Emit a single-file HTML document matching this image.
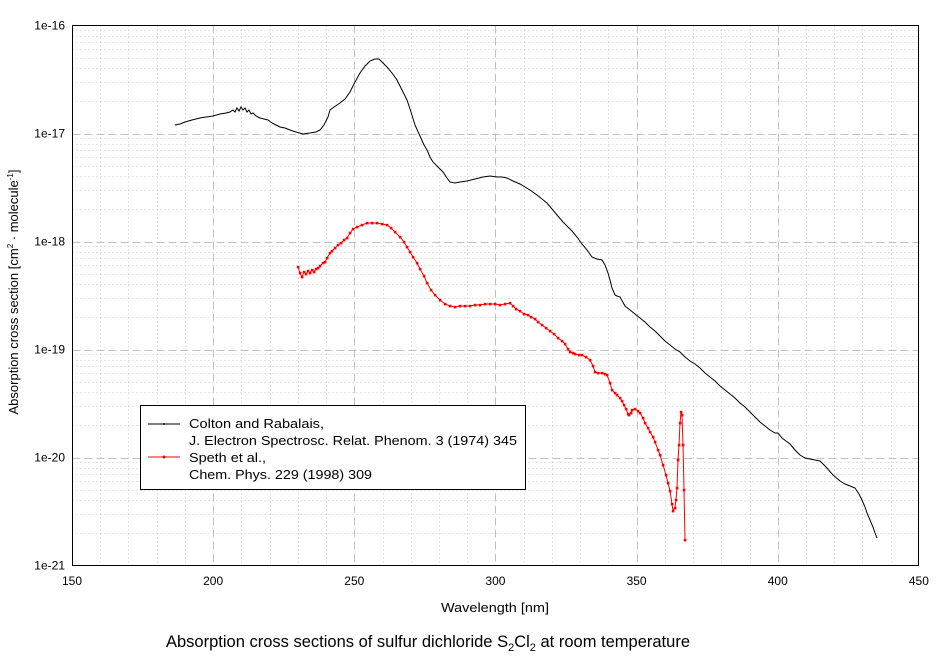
<!DOCTYPE html>
<html><head><meta charset="utf-8"><style>
body{margin:0;background:#fff}
svg text{font-family:"Liberation Sans",Arial,sans-serif;fill:#000}
</style></head><body>
<svg id="s" width="944" height="659" xmlns="http://www.w3.org/2000/svg">
<g id="grid"></g>
<rect x="72.5" y="25.5" width="846" height="540" fill="none" stroke="#000" stroke-width="1"/>
<g id="ticks" font-size="12"></g>
<polyline fill="none" stroke="#000" stroke-width="1" points="175,125 180,124 185,122 192,120 200,118 206,117 213,116 220,114 226,113 230,112 233,110 235,112 237,108 239,111 241,107 243,110 245,108 247,112 249,110 251,114 253,113 256,116 260,118 264,119 268,120 272,123 276,125 280,127 285,128 290,130 296,132 303,134 310,133 316,132 320,130 324,125 328,117 330,110 334,107 340,103 345,99 350,92 355,82 360,73 365,66 370,61 375,59 379,59 382,62 387,67 392,73 397,80 402,90 407,100 411,112 415,125 420,136 424,145 427,150 430,157 433,162 438,167 443,172 447,178 450,182 455,183 460,182 467,181 475,179 483,177 490,176 497,177 502,177 507,178 513,181 520,184 525,187 530,190 537,195 542,199 547,203 552,209 557,215 563,222 567,226 572,231 577,237 582,244 587,250 592,257 597,259 602,260 605,265 608,273 610,280 612,288 615,295 617,296 620,297 625,306 630,310 635,314 640,318 645,322 650,327 655,331 660,336 665,341 670,345 675,349 680,352 685,357 690,361 695,364 700,368 705,373 710,377 715,381 720,386 725,390 730,394 735,398 740,403 745,407 750,412 755,417 760,422 765,426 770,430 775,433 778,433 782,438 786,441 790,444 795,450 800,455 805,458 810,459 815,460 820,461 826,467 833,475 840,481 845,484 850,486 855,488 859,494 862,500 865,507 867,513 870,520 873,527 875,533 877,538"/>
<polyline id="red" fill="none" stroke="#f00" stroke-width="1" points="298,267 300,273 302,277 304,272 306,274 308,271 310,273 312,270 314,272 316,269 318,268 320,266 323,263 325,262 327,258 330,253 332,251 335,248 338,245 341,243 344,240 347,238 350,233 353,229 357,227 362,225 367,223 372,223 377,223 382,224 387,225 391,228 395,232 400,237 404,242 407,247 410,252 413,257 417,263 420,269 424,276 427,283 431,290 435,295 440,300 445,304 450,306 455,307 460,306 465,306 470,306 475,305 480,305 485,304 490,304 495,304 500,305 505,304 510,303 513,306 516,309 520,311 524,314 528,315 531,317 535,319 538,322 542,325 546,328 550,331 554,334 558,338 562,341 565,344 568,349 570,352 573,353 575,354 579,355 582,355 586,357 590,360 593,366 595,372 598,373 602,373 605,374 607,375 610,383 612,390 615,393 617,395 620,398 622,401 624,405 626,409 628,414 629,415 631,413 632,410 635,409 638,411 640,413 643,418 645,423 648,428 650,432 653,437 655,442 658,450 660,455 663,465 666,475 668,483 670,491 672,504 673,511 675,508 676,500 677,488 678,460 679,445 680,423 681,412 682,415 683,445 684,490 685,540"/>
<g id="dots" fill="#f00"></g>
<rect x="140.5" y="405.5" width="385" height="84" fill="#fff" stroke="#000"/>
<line x1="148" y1="424" x2="180" y2="424" stroke="#000"/><circle cx="164" cy="424" r="1" fill="#000"/>
<line x1="148" y1="457" x2="180" y2="457" stroke="#f00"/><circle cx="164" cy="457" r="1.5" fill="#f00"/>
<text x="189" y="428" font-size="13" textLength="135" lengthAdjust="spacingAndGlyphs">Colton and Rabalais,</text>
<text x="189" y="445" font-size="13" textLength="328" lengthAdjust="spacingAndGlyphs">J. Electron Spectrosc. Relat. Phenom. 3 (1974) 345</text>
<text x="189" y="462" font-size="13" textLength="77" lengthAdjust="spacingAndGlyphs">Speth et al.,</text>
<text x="189" y="479" font-size="13" textLength="183" lengthAdjust="spacingAndGlyphs">Chem. Phys. 229 (1998) 309</text>
<text x="441" y="612" font-size="13" textLength="108" lengthAdjust="spacingAndGlyphs">Wavelength [nm]</text>
<text transform="translate(18,292) rotate(-90)" font-size="13" text-anchor="middle">Absorption cross section [cm<tspan dy="-5" font-size="8">2</tspan><tspan dy="5"> · molecule</tspan><tspan dy="-5" font-size="8">-1</tspan><tspan dy="5">]</tspan></text>
<text x="428" y="647" font-size="16.5" text-anchor="middle">Absorption cross sections of sulfur dichloride S<tspan dy="4" font-size="11">2</tspan><tspan dy="-4">Cl</tspan><tspan dy="4" font-size="11">2</tspan><tspan dy="-4"> at room temperature</tspan></text>
</svg>
<script>
var NS="http://www.w3.org/2000/svg";
function el(p,t,a,txt){var e=document.createElementNS(NS,t);for(var k in a)e.setAttribute(k,a[k]);if(txt!==undefined)e.textContent=txt;p.appendChild(e);return e;}
var g=document.getElementById("grid"),tk=document.getElementById("ticks");
var L=72.5,R=918.5,T=25.5,B=565.5,dec=108;
function X(n){return 72+(n-150)*2.823;}
for(var n=160;n<450;n+=10){var x=Math.round(X(n))+0.5;var maj=n%50==0;
el(g,"line",{x1:x,x2:x,y1:T,y2:B,stroke:maj?"#c0c0c0":"#c8c8c8","stroke-dasharray":maj?"8,4":"1,3"});}
for(var n=150;n<=450;n+=50){el(tk,"text",{x:X(n),y:585,"text-anchor":"middle"},String(n));}
for(var d=0;d<5;d++){for(var m=2;m<=9;m++){var y=Math.round(B-(d*dec+Math.log10(m)*dec))+0.5;
el(g,"line",{x1:L,x2:R,y1:y,y2:y,stroke:"#c8c8c8","stroke-dasharray":"1,3"});}
if(d>0){var y=Math.round(B-d*dec)+0.5;el(g,"line",{x1:L,x2:R,y1:y,y2:y,stroke:"#c0c0c0","stroke-dasharray":"8,4"});}}
for(var d=0;d<=5;d++){var y=B-d*dec;el(tk,"text",{x:65,y:y+4,"text-anchor":"end"},"1e-"+(21-d));}
var pts=document.getElementById("red").getAttribute("points").split(" ");
var dt=document.getElementById("dots");
pts.forEach(function(p,i){var c=p.split(",");el(dt,"rect",{x:c[0]-1.2,y:c[1]-1.2,width:2.6,height:2.6});});
</script>
</body></html>
